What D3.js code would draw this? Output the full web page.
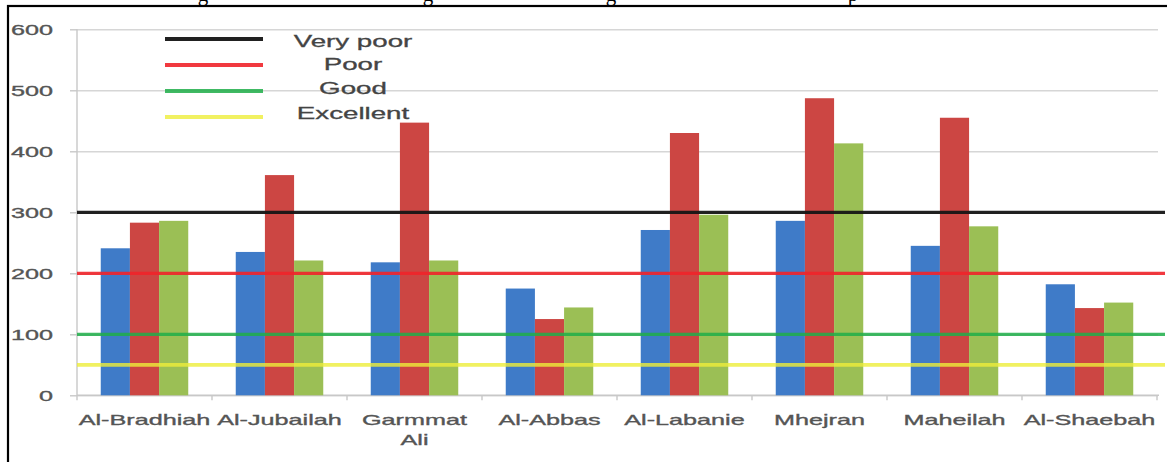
<!DOCTYPE html>
<html>
<head>
<meta charset="utf-8">
<script src="https://cdn.jsdelivr.net/npm/d3@7"></script>
<style>
  html, body { margin: 0; padding: 0; background: #fff; }
  svg { display: block; }
</style>
</head>
<body>
<svg id="chart" width="1167" height="462"></svg>
<script>
// ---------- data ----------
const categories = ["Al-Bradhiah", "Al-Jubailah", "Garmmat Ali", "Al-Abbas", "Al-Labanie", "Mhejran", "Maheilah", "Al-Shaebah"];
const seriesNames = ["Series1", "Series2", "Series3"];
const blueValues  = [241, 235, 218, 175, 271, 286, 245, 182];
const redValues   = [283, 361, 447, 125, 430, 487, 455, 143];
const greenValues = [286, 221, 221, 144, 296, 413, 277, 152];
const yTicks = [0, 100, 200, 300, 400, 500, 600];
const refNames  = ["Very poor", "Poor", "Good", "Excellent"];
const refValues = [300, 200, 100, 50];

// ---------- styles ----------
const seriesColors = ["#3f7bc8", "#cc4643", "#9bbf55"];
const refColors = ["#151515", "#f0242a", "#1fae49", "#eeee3a"];
const refOpacity = [0.95, 0.9, 0.85, 0.8];
const refWidth = [3.2, 3.2, 3.2, 3.8];
const STRETCH = 1.68;          // reference text is horizontally stretched
const FONT = "'Liberation Sans', Arial, sans-serif";
const TXT = "#555";

const svg = d3.select("#chart");
const plotL = 77, plotR = 1157, plotT = 29.3, plotB = 395.3;

const x0 = d3.scaleBand().domain(categories).range([plotL, plotR]).padding(0);
const groupPad = (x0.bandwidth() - 87.5) / 2;
const x1 = d3.scaleBand().domain(seriesNames).range([groupPad, x0.bandwidth() - groupPad]).padding(0);
const y = d3.scaleLinear().domain([0, 600]).range([plotB, plotT]);

// frame
svg.append("rect").attr("x", 8).attr("y", 6).attr("width", 1200).attr("height", 500)
  .attr("fill", "none").attr("stroke", "#000").attr("stroke-width", 2.2);

// caption fragments (descenders of the cut-off caption above the frame)
const capFrag = [["g", 203], ["g", 428], ["g", 611], ["p", 853]];
svg.selectAll("text.cap").data(capFrag).enter().append("text")
  .attr("class", "cap")
  .attr("x", d => d[1]).attr("y", 0.5)
  .attr("text-anchor", "middle")
  .attr("font-family", "'Liberation Serif', 'Times New Roman', serif")
  .attr("font-size", 21).attr("fill", "#000")
  .text(d => d[0]);

// gridlines
const grid = svg.append("g").attr("transform", `translate(${plotL},0)`)
  .call(d3.axisLeft(y).tickValues(yTicks).tickSize(-(plotR + 1 - plotL)).tickFormat(""));
grid.select(".domain").remove();
grid.selectAll("line").attr("stroke", "#d6d6d6").attr("stroke-width", 1.6);

// y axis
const yAxis = svg.append("g").attr("transform", `translate(${plotL},0)`)
  .call(d3.axisLeft(y).tickValues(yTicks).tickSize(7).tickSizeOuter(0));
yAxis.select(".domain").attr("stroke", "#c8c8c8").attr("stroke-width", 1.4)
  .attr("d", `M0,${plotT}V${plotB + 5}`);
yAxis.selectAll(".tick line").attr("stroke", "#c8c8c8").attr("stroke-width", 1.4);
yAxis.selectAll(".tick text")
  .attr("x", -24 / STRETCH)
  .attr("transform", `scale(${STRETCH},1)`)
  .attr("font-family", FONT).attr("font-size", 15).attr("fill", TXT)
  .attr("stroke", TXT).attr("stroke-width", 0.35)
  .attr("dy", "0.36em");

// x axis line and boundary ticks
svg.append("line").attr("x1", plotL).attr("x2", plotR + 2).attr("y1", plotB).attr("y2", plotB)
  .attr("stroke", "#c8c8c8").attr("stroke-width", 1.4);
const bounds = categories.map(c => x0(c)).concat([x0(categories[categories.length - 1]) + x0.step()]);
svg.selectAll("line.xt").data(bounds.slice(1)).enter().append("line")
  .attr("class", "xt")
  .attr("x1", d => d).attr("x2", d => d).attr("y1", plotB).attr("y2", plotB + 5)
  .attr("stroke", "#c8c8c8").attr("stroke-width", 1.4);

// bars
const seriesValues = [blueValues, redValues, greenValues];
const barData = [];
categories.forEach((c, i) => seriesNames.forEach((s, j) => barData.push({c, s, j, v: seriesValues[j][i]})));
svg.append("g").selectAll("rect").data(barData).enter().append("rect")
  .attr("x", d => x0(d.c) + x1(d.s))
  .attr("width", x1.bandwidth())
  .attr("y", d => y(d.v))
  .attr("height", d => y(0) - y(d.v))
  .attr("fill", d => seriesColors[d.j]);

// reference lines
svg.append("g").selectAll("line").data(refValues).enter().append("line")
  .attr("x1", plotL).attr("x2", 1165)
  .attr("y1", d => y(d)).attr("y2", d => y(d))
  .attr("stroke", (d, i) => refColors[i])
  .attr("stroke-opacity", (d, i) => refOpacity[i])
  .attr("stroke-width", (d, i) => refWidth[i]);

// category labels
const labG = svg.append("g");
categories.forEach(c => {
  const cx = x0(c) + x0.bandwidth() / 2;
  const lines = c === "Garmmat Ali" ? ["Garmmat", "Ali"] : [c];
  const t = labG.append("text")
    .attr("transform", `translate(${cx},425) scale(${STRETCH},1)`)
    .attr("text-anchor", "middle")
    .attr("font-family", FONT).attr("font-size", 15).attr("fill", TXT)
    .attr("stroke", TXT).attr("stroke-width", 0.35);
  lines.forEach((ln, k) => t.append("tspan").attr("x", 0).attr("y", k * 20).text(ln));
});

// legend
const legY = [39, 65, 91, 117];
const legTextY = [47, 70, 94, 119];
const leg = svg.append("g");
refNames.forEach((n, i) => {
  leg.append("line").attr("x1", 165).attr("x2", 263).attr("y1", legY[i]).attr("y2", legY[i])
    .attr("stroke", refColors[i]).attr("stroke-opacity", refOpacity[i]).attr("stroke-width", 3.8);
  leg.append("text")
    .attr("transform", `translate(353,${legTextY[i]}) scale(${STRETCH},1)`)
    .attr("text-anchor", "middle")
    .attr("font-family", FONT).attr("font-size", 16.5).attr("fill", "#444")
    .attr("stroke", "#444").attr("stroke-width", 0.3)
    .text(n);
});
</script>
</body>
</html>
